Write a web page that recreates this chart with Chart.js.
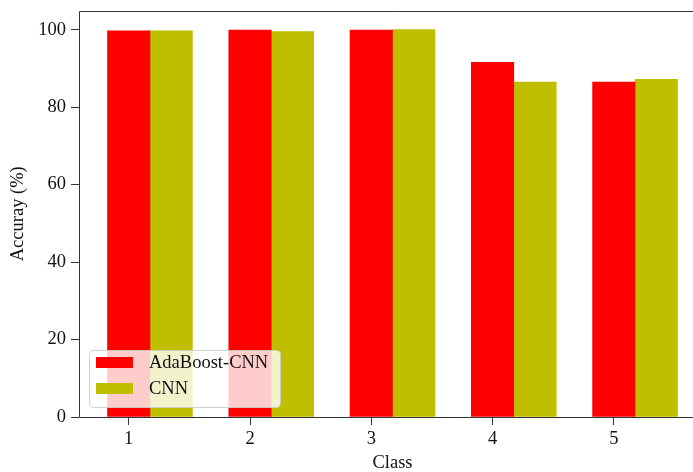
<!DOCTYPE html>
<html>
<head>
<meta charset="utf-8">
<script src="https://cdn.jsdelivr.net/npm/chart.js@4/dist/chart.umd.min.js"></script>
<style>
  html, body { margin: 0; padding: 0; background: #fff; overflow: hidden; }
  #wrap { width: 708px; height: 472px; }
</style>
</head>
<body>
<div id="wrap"><canvas id="c" width="708" height="472"></canvas></div>
<script>
// Per-class accuracy (%) for the two models
const classes = [1, 2, 3, 4, 5];
const classLabels = ['1', '2', '3', '4', '5'];
const adaboostCnn = [99.7, 99.9, 99.9, 91.6, 86.5];
const cnn = [99.7, 99.5, 100.0, 86.5, 87.2];
const yTicks = [0, 20, 40, 60, 80, 100];
const barWidth = 0.35;

const serif = '"Liberation Serif", "Times New Roman", serif';
const fontSize = 18.5;

// Axes frame: top, left and bottom spines
const spines = {
  id: 'spines',
  afterDraw(chart) {
    const { ctx, chartArea: a } = chart;
    const l = Math.round(a.left) + 0.5, t = Math.round(a.top) + 0.5, b = Math.round(a.bottom) + 0.5;
    ctx.save();
    ctx.strokeStyle = '#333';
    ctx.lineWidth = 1;
    ctx.beginPath();
    ctx.moveTo(a.right, t);
    ctx.lineTo(l, t);
    ctx.lineTo(l, b);
    ctx.lineTo(a.right, b);
    ctx.stroke();
    ctx.restore();
  }
};

// Legend box in the lower-left corner of the plot
const innerLegend = {
  id: 'innerLegend',
  afterDraw(chart) {
    const { ctx, chartArea: a } = chart;
    const x = a.left + 10, y = a.bottom - 67, w = 191, h = 57;
    ctx.save();
    ctx.fillStyle = 'rgba(255,255,255,0.8)';
    ctx.strokeStyle = 'rgba(204,204,204,0.9)';
    ctx.lineWidth = 1;
    ctx.beginPath();
    ctx.roundRect(x + 0.5, y + 0.5, w, h, 4);
    ctx.fill();
    ctx.stroke();
    ctx.font = fontSize + 'px ' + serif;
    ctx.textBaseline = 'middle';
    chart.data.datasets.forEach((ds, i) => {
      const ry = y + 7 + i * 26;
      ctx.fillStyle = ds.backgroundColor;
      ctx.fillRect(x + 7, ry, 37, 11);
      ctx.fillStyle = '#111';
      ctx.fillText(ds.label, x + 60, ry + 6);
    });
    ctx.restore();
  }
};

new Chart(document.getElementById('c'), {
  type: 'bar',
  data: {
    datasets: [
      {
        label: 'AdaBoost-CNN',
        data: classes.map((c, i) => ({ x: c, y: adaboostCnn[i] })),
        backgroundColor: '#ff0000'
      },
      {
        label: 'CNN',
        data: classes.map((c, i) => ({ x: c + barWidth, y: cnn[i] })),
        backgroundColor: '#bfbf00'
      }
    ]
  },
  options: {
    responsive: false,
    animation: false,
    grouped: false,
    categoryPercentage: 1,
    barPercentage: 1,
    layout: { padding: { top: 10.5, right: 2, left: 0, bottom: 0 } },
    plugins: { legend: { display: false }, tooltip: { enabled: false } },
    scales: {
      x: {
        type: 'linear',
        offset: false,
        min: 0.59,
        max: 5.76,
        afterBuildTicks(scale) { scale.ticks = classes.map(v => ({ value: v })); },
        afterFit(scale) { scale.height = 55; },
        grid: { offset: false, drawOnChartArea: false, drawTicks: true, tickLength: 8, tickColor: '#333' },
        border: { display: false },
        ticks: {
          color: '#111',
          font: { family: serif, size: fontSize },
          padding: 3,
          callback: (v) => classLabels[classes.indexOf(v)] ?? ''
        },
        title: {
          display: true,
          text: 'Class',
          color: '#111',
          font: { family: serif, size: fontSize },
          padding: { top: 0, bottom: -2 }
        }
      },
      y: {
        min: 0,
        max: 104.95,
        afterBuildTicks(scale) { scale.ticks = yTicks.map(v => ({ value: v })); },
        afterFit(scale) {
          scale.width = 79;
          scale.paddingTop = 0;
          scale.paddingBottom = 0;
        },
        grid: { drawOnChartArea: false, drawTicks: true, tickLength: 8, tickColor: '#333' },
        border: { display: false },
        ticks: {
          color: '#111',
          font: { family: serif, size: fontSize },
          padding: 5
        },
        title: {
          display: true,
          text: 'Accuray (%)',
          color: '#111',
          font: { family: serif, size: fontSize },
          padding: { top: 7, bottom: 0 }
        }
      }
    }
  },
  plugins: [spines, innerLegend]
});
</script>
</body>
</html>
